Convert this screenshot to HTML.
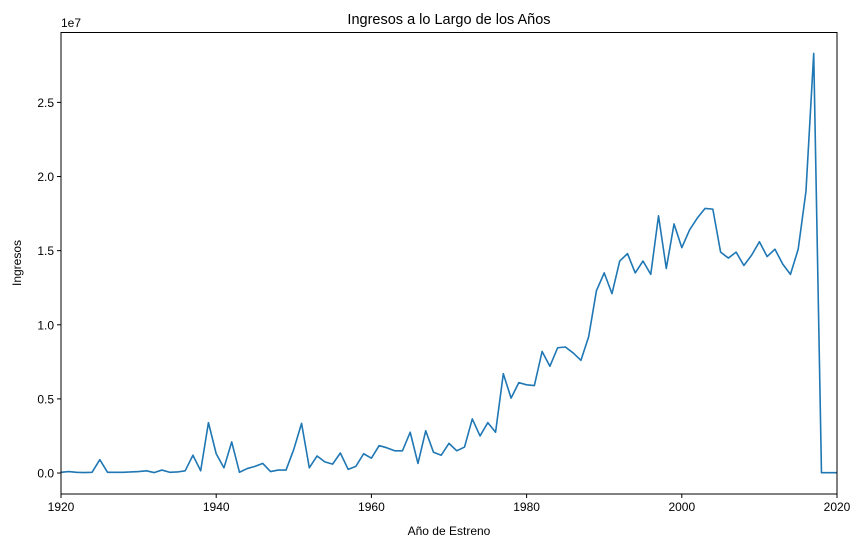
<!DOCTYPE html>
<html><head><meta charset="utf-8"><style>
body{margin:0;background:#fff;}
svg{display:block;font-family:"Liberation Sans","DejaVu Sans",sans-serif;}
</style></head><body>
<svg id="chart" width="863" height="547">
<text x="449" y="24" font-size="14.5" text-anchor="middle">Ingresos a lo Largo de los Años</text>
<text x="449" y="535" font-size="12" text-anchor="middle">Año de Estreno</text>
<text transform="translate(21,263) rotate(-90)" font-size="12" text-anchor="middle">Ingresos</text>
<text x="61" y="27" font-size="12">1e7</text>
<g id="ticks"></g>
<path id="line" fill="none" stroke="#1f77b4" stroke-width="1.6" stroke-linejoin="round"></path>
<rect x="61" y="32.5" width="776" height="461.5" fill="none" stroke="#000" stroke-width="1"></rect>
</svg>
<script>
const years = [1920,1921,1922,1923,1924,1925,1926,1927,1928,1929,1930,1931,1932,1933,1934,1935,1936,1937,1938,1939,1940,1941,1942,1943,1944,1945,1946,1947,1948,1949,1950,1951,1952,1953,1954,1955,1956,1957,1958,1959,1960,1961,1962,1963,1964,1965,1966,1967,1968,1969,1970,1971,1972,1973,1974,1975,1976,1977,1978,1979,1980,1981,1982,1983,1984,1985,1986,1987,1988,1989,1990,1991,1992,1993,1994,1995,1996,1997,1998,1999,2000,2001,2002,2003,2004,2005,2006,2007,2008,2009,2010,2011,2012,2013,2014,2015,2016,2017,2018,2019,2020];
const revenueMillions = [0.05,0.1,0.05,0.03,0.05,0.9,0.05,0.05,0.05,0.07,0.1,0.15,0.03,0.2,0.05,0.07,0.15,1.2,0.15,3.4,1.3,0.35,2.1,0.05,0.3,0.45,0.65,0.1,0.2,0.2,1.6,3.35,0.35,1.15,0.75,0.6,1.35,0.25,0.45,1.3,1.0,1.85,1.7,1.5,1.5,2.75,0.65,2.85,1.4,1.2,2.0,1.5,1.75,3.65,2.5,3.4,2.75,6.7,5.05,6.1,5.95,5.9,8.2,7.2,8.45,8.5,8.1,7.6,9.2,12.3,13.5,12.1,14.3,14.8,13.5,14.3,13.4,17.35,13.8,16.8,15.2,16.4,17.2,17.85,17.8,14.9,14.5,14.9,14.0,14.7,15.6,14.6,15.1,14.1,13.4,15.1,19.0,28.3,0.02,0.02,0.02];
const xTicks = [1920,1940,1960,1980,2000,2020];
const yTicks = [0,0.5,1.0,1.5,2.0,2.5];
const yTickLabels = ["0.0","0.5","1.0","1.5","2.0","2.5"];

const L=61,R=837,T=32.5,B=494;
const yMin=-1.415, yMax=29.715;
const xs = v => L + (v-1920)/(2020-1920)*(R-L);
const ys = v => B - (v-yMin)/(yMax-yMin)*(B-T);
const NS="http://www.w3.org/2000/svg";
const g=document.getElementById('ticks');
function mk(tag,attrs){const e=document.createElementNS(NS,tag);for(const k in attrs)e.setAttribute(k,attrs[k]);return e;}
xTicks.forEach(t=>{
  const x=xs(t);
  const l=mk('line',{x1:x,x2:x,y1:B,y2:B+4,stroke:'#000'});
  
  
  g.appendChild(l);
  const tx=mk('text',{x:x,y:B+17,'font-size':12,'text-anchor':'middle'});
  tx.textContent=t;
  
  
  g.appendChild(tx);
});
yTicks.forEach((t,i)=>{
  const y=ys(t*10);
  const l=mk('line',{x1:L-4,x2:L,y1:y,y2:y,stroke:'#000'});
  
  
  g.appendChild(l);
  const tx=mk('text',{x:L-7,y:y+4.5,'font-size':12,'text-anchor':'end'});
  tx.textContent=yTickLabels[i];
  
  
  g.appendChild(tx);
});
document.getElementById('line').setAttribute('d',years.map((yr,i)=>(i?'L':'M')+xs(yr).toFixed(2)+','+ys(revenueMillions[i]).toFixed(2)).join(' '));
</script>
</body></html>
